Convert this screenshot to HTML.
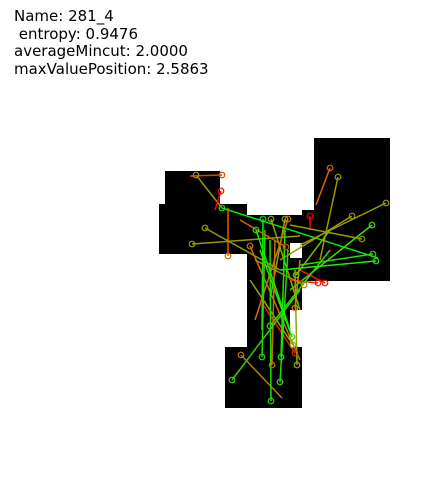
<!DOCTYPE html>
<html><head><meta charset="utf-8">
<style>
html,body{margin:0;padding:0;background:#fff;}
#wrap{position:relative;width:428px;height:496px;overflow:hidden;}
#info{position:absolute;left:14px;top:8px;font-family:"DejaVu Sans","Liberation Sans",sans-serif;font-size:15px;line-height:17.5px;color:#000;white-space:pre;}
svg{position:absolute;left:0;top:0;}
</style></head><body>
<div id="wrap">
<div id="info">Name: 281_4
 entropy: 0.9476
averageMincut: 2.0000
maxValuePosition: 2.5863</div>
<svg id="plot" width="428" height="496"></svg>
</div>
<script>
// Black region rectangles [x, y, w, h]
const regionX = [165,159,247,247,290,302,314,225];
const regionY = [171,204,215,243,258,210,138,347];
const regionW = [55,88,55,43,12,12,76,77];
const regionH = [33,50,28,104,52,71,143,61];
// Segments: start (circle) and end points, colour
const segX1 = [196,222,221,222,228,205,192,386,330,338,310,372,362,373,376,352,263,271,285,288,250,318,325,295,270,292,293,295,241,232,262,272,280,297,271,281,256,286,304,296];
const segY1 = [175,175,191,208,256,228,244,203,168,177,216,225,239,254,261,216,219,219,219,219,246,283,283,308,326,337,345,353,355,380,357,365,382,365,401,357,230,247,285,275];
const segX2 = [222,190,215,378,228,280,300,300,316,320,310,290,290,300,280,280,262,300,270,255,300,290,300,300,330,260,250,260,282,300,265,275,288,295,270,285,290,240,255,330];
const segY2 = [208,176,210,258,208,270,236,245,205,260,230,290,225,265,270,260,330,310,300,320,360,280,270,260,250,250,280,300,398,290,230,240,250,270,240,230,330,220,260,230];
const segC = ["#9a9a00","#e04000","#ff0000","#00ee00","#e06000","#9a9a00","#9a9a00","#9a9a00","#e06000","#9a9a00","#ff0000","#40dd00","#9a9a00","#20dd00","#20ee00","#9a9a00","#00ee00","#8aaa00","#8aaa00","#d07000","#d07000","#ff1000","#ff1000","#d08000","#30dd00","#40dd00","#8aaa00","#ee2000","#b08000","#40cc00","#20dd00","#c07000","#20dd00","#8aaa00","#20dd00","#10ee00","#10ee00","#d06000","#9a9a00","#7abb00"];
const svg = document.getElementById('plot');
const NS = 'http://www.w3.org/2000/svg';
for (let i = 0; i < regionX.length; i++) {
  const r = document.createElementNS(NS, 'rect');
  r.setAttribute('x', regionX[i]); r.setAttribute('y', regionY[i]);
  r.setAttribute('width', regionW[i]); r.setAttribute('height', regionH[i]);
  r.setAttribute('fill', '#000');
  
  
  svg.appendChild(r);
}
for (let i = 0; i < segX1.length; i++) {
  const l = document.createElementNS(NS, 'line');
  l.setAttribute('x1', segX1[i]); l.setAttribute('y1', segY1[i]);
  l.setAttribute('x2', segX2[i]); l.setAttribute('y2', segY2[i]);
  l.setAttribute('stroke', segC[i]); l.setAttribute('stroke-width', '1.5');
  
  
  svg.appendChild(l);
}
for (let i = 0; i < segX1.length; i++) {
  const c = document.createElementNS(NS, 'circle');
  c.setAttribute('cx', segX1[i]); c.setAttribute('cy', segY1[i]); c.setAttribute('r', '2.8');
  c.setAttribute('fill', 'none'); c.setAttribute('stroke', segC[i]); c.setAttribute('stroke-width', '1.2');
  
  
  svg.appendChild(c);
}
</script>
</body></html>
